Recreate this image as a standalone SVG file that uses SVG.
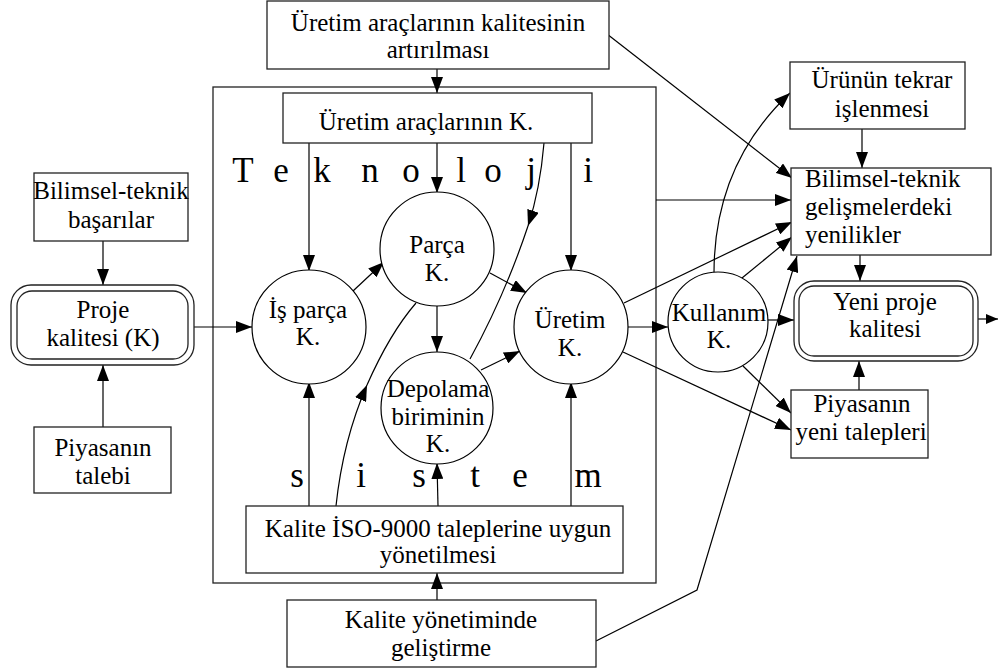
<svg xmlns="http://www.w3.org/2000/svg" width="998" height="670" viewBox="0 0 998 670">
<defs>
<marker id="ah" viewBox="0 0 16 12" refX="16" refY="6" markerWidth="16" markerHeight="12" markerUnits="userSpaceOnUse" orient="auto">
<path d="M0,0 L16,6 L0,12 Z" fill="#000"/>
</marker>
<marker id="ahs" viewBox="0 0 12 10" refX="12" refY="5" markerWidth="12" markerHeight="10" markerUnits="userSpaceOnUse" orient="auto">
<path d="M0,0 L12,5 L0,10 Z" fill="#000"/>
</marker>
</defs>
<style>
.box{fill:#fff;stroke:#222;stroke-width:1.3}
.frame{fill:none;stroke:#222;stroke-width:1.3}
.circ{fill:#fff;stroke:#000;stroke-width:1.2}
.ln{fill:none;stroke:#000;stroke-width:1.2}
.arr{fill:none;stroke:#000;stroke-width:1.2;marker-end:url(#ah)}
.t{font-family:"Liberation Serif","Times New Roman",serif;font-size:25px;fill:#000;text-anchor:middle}
.tl{font-family:"Liberation Serif","Times New Roman",serif;font-size:25px;fill:#000}
.big{font-family:"Liberation Serif","Times New Roman",serif;font-size:35px;fill:#000;text-anchor:middle}
</style>
<rect width="998" height="670" fill="#fff"/>

<g id="system-frame">
<rect class="frame" x="213" y="87" width="443" height="496"/>
<text class="big" y="182"><tspan x="243">T</tspan><tspan x="281">e</tspan><tspan x="322">k</tspan><tspan x="370">n</tspan><tspan x="411">o</tspan><tspan x="461">l</tspan><tspan x="493">o</tspan><tspan x="531">j</tspan><tspan x="588">i</tspan></text>
<text class="big" y="487"><tspan x="297">s</tspan><tspan x="361">i</tspan><tspan x="419">s</tspan><tspan x="475">t</tspan><tspan x="520">e</tspan><tspan x="588">m</tspan></text>
</g>

<g id="connectors">
<path class="arr" d="M437,69 L437,93"/>
<path class="arr" d="M607,34 L792,178"/>
<path class="arr" d="M309,143 L309,271"/>
<path class="arr" d="M437,143 L437,193"/>
<path class="arr" d="M571,143 L571,271"/>
<path class="arr" d="M544,143 Q540,190 528,226"/>
<path class="ln" d="M528,226 Q505,295 470,359"/>
<path class="arr" d="M336,506 Q343,440 367,385"/>
<path class="ln" d="M367,385 Q390,333 416,303"/>
<path class="arr" d="M194,327 L252,327"/>
<path class="arr" d="M103,241 L103,285"/>
<path class="arr" d="M103,427 L103,365"/>
<path class="arr" d="M353,291 L384,262"/>
<path class="arr" d="M490,273 L527,293"/>
<path class="arr" d="M437,305 L437,352"/>
<path class="arr" d="M481,370 L520,351"/>
<path class="arr" d="M309,506 L309,382"/>
<path class="arr" d="M438,506 L437,463"/>
<path class="arr" d="M571,506 L571,382"/>
<path class="arr" d="M437,600 L437,573"/>
<path class="arr" d="M628,327 L668,327"/>
<path class="arr" d="M624,303 L792,222"/>
<path class="arr" d="M656,200 L791,200"/>
<path class="arr" d="M742,278 L792,237"/>
<path class="arr" d="M714,273 C714,200 740,140 790,93"/>
<path class="arr" d="M767,320 L794,320"/>
<path class="arr" d="M743,366 L791,413"/>
<path class="arr" d="M623,352 L791,430"/>
<path class="arr" d="M596,641 L697,590 L797,256"/>
<path class="arr" d="M862,129 L862,168"/>
<path class="arr" d="M860,255 L860,281"/>
<path class="arr" d="M859,390 L859,361"/>
<path class="ln" d="M978,319 L998,319" style="marker-end:url(#ahs)"/>
</g>

<g id="n-uretim-araclari-kalite-artirilmasi">
<rect class="box" x="267" y="1" width="342" height="68"/>
<text class="t" x="438" y="31">Üretim araçlarının kalitesinin</text>
<text class="t" x="438" y="58">artırılması</text>
</g>

<g id="n-uretim-araclari-k">
<rect class="box" x="283" y="93" width="309" height="50"/>
<text class="t" x="426" y="130">Üretim araçlarının K.</text>
</g>

<g id="n-bilimsel-teknik-basarilar">
<rect class="box" x="34" y="173" width="154" height="68"/>
<text class="t" x="111" y="199">Bilimsel-teknik</text>
<text class="t" x="111" y="228">başarılar</text>
</g>

<g id="n-proje-kalitesi">
<rect class="box" x="11" y="285" width="183" height="80" rx="20" ry="20"/>
<rect class="frame" x="17" y="291" width="171" height="68" rx="15" ry="15"/>
<text class="t" x="103" y="318">Proje</text>
<text class="t" x="103" y="346">kalitesi (K)</text>
</g>

<g id="n-piyasanin-talebi">
<rect class="box" x="34" y="427" width="137" height="66"/>
<text class="t" x="103" y="456">Piyasanın</text>
<text class="t" x="103" y="484">talebi</text>
</g>

<g id="n-is-parca">
<circle class="circ" cx="309" cy="327" r="57"/>
<text class="t" x="308" y="318">İş parça</text>
<text class="t" x="308" y="345">K.</text>
</g>

<g id="n-parca">
<circle class="circ" cx="437" cy="249" r="57"/>
<text class="t" x="437" y="253">Parça</text>
<text class="t" x="437" y="281">K.</text>
</g>

<g id="n-depolama">
<circle class="circ" cx="437" cy="408" r="56"/>
<text class="t" x="438" y="397">Depolama</text>
<text class="t" x="438" y="425">biriminin</text>
<text class="t" x="438" y="452">K.</text>
</g>

<g id="n-uretim">
<circle class="circ" cx="571" cy="327" r="57"/>
<text class="t" x="570" y="328">Üretim</text>
<text class="t" x="570" y="356">K.</text>
</g>

<g id="n-kullanim">
<circle class="circ" cx="718" cy="322" r="50"/>
<text class="t" x="719" y="321">Kullanım</text>
<text class="t" x="719" y="348">K.</text>
</g>

<g id="n-kalite-iso">
<rect class="box" x="246" y="506" width="377" height="67"/>
<text class="t" x="438" y="537">Kalite İSO-9000 taleplerine uygun</text>
<text class="t" x="438" y="563">yönetilmesi</text>
</g>

<g id="n-kalite-yonetiminde">
<rect class="box" x="287" y="600" width="309" height="67"/>
<text class="t" x="441" y="628">Kalite yönetiminde</text>
<text class="t" x="441" y="656">geliştirme</text>
</g>

<g id="n-urunun-tekrar">
<rect class="box" x="790" y="62" width="175" height="67"/>
<text class="t" x="882" y="88">Ürünün tekrar</text>
<text class="t" x="882" y="117">işlenmesi</text>
</g>

<g id="n-bilimsel-teknik-yenilikler">
<rect class="box" x="791" y="168" width="200" height="87"/>
<text class="tl" x="805" y="187">Bilimsel-teknik</text>
<text class="tl" x="805" y="215">gelişmelerdeki</text>
<text class="tl" x="805" y="243">yenilikler</text>
</g>

<g id="n-yeni-proje-kalitesi">
<rect class="box" x="794" y="281" width="184" height="80" rx="20" ry="20"/>
<rect class="frame" x="799" y="286" width="174" height="70" rx="15" ry="15"/>
<text class="t" x="885" y="310">Yeni proje</text>
<text class="t" x="885" y="337">kalitesi</text>
</g>

<g id="n-piyasanin-yeni-talepleri">
<rect class="box" x="791" y="390" width="137" height="68"/>
<text class="t" x="862" y="412">Piyasanın</text>
<text class="t" x="861" y="440">yeni talepleri</text>
</g>
</svg>
